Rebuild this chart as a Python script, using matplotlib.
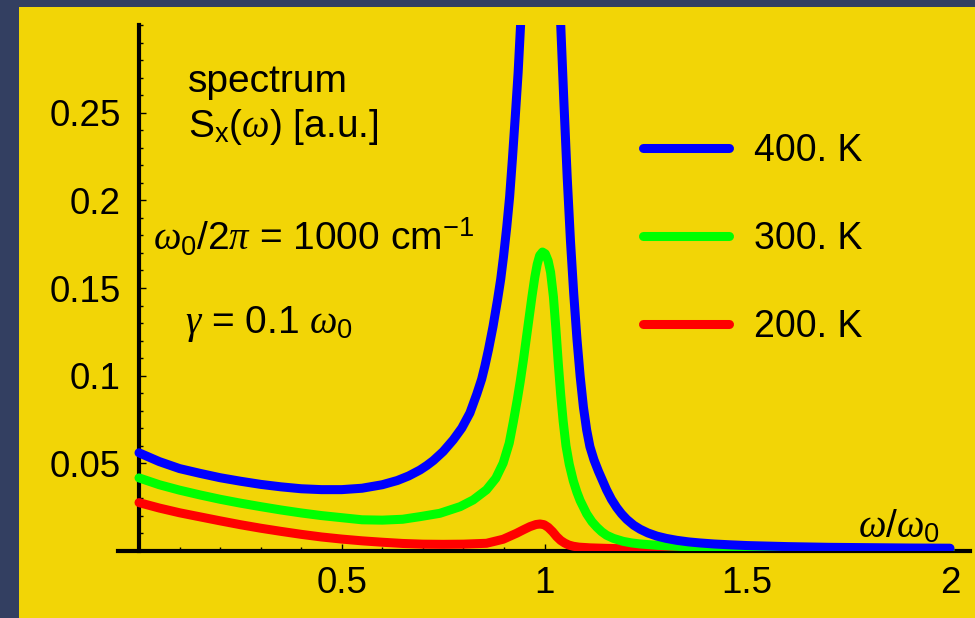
import matplotlib
matplotlib.use("Agg")
import matplotlib.pyplot as plt
from matplotlib.patches import Rectangle
from matplotlib.ticker import FixedLocator, MultipleLocator

plt.rcParams['font.family'] = ['Liberation Sans', 'DejaVu Sans']
plt.rcParams['mathtext.fontset'] = 'custom'
plt.rcParams['mathtext.rm'] = 'Liberation Sans'
plt.rcParams['mathtext.it'] = 'Liberation Serif:italic'
plt.rcParams['mathtext.bf'] = 'Liberation Sans:bold'

# values (omega/omega_0, S_x in a.u.)
x_400 = [0.00, 0.05, 0.10, 0.15, 0.20, 0.25, 0.30, 0.35, 0.40, 0.45, 0.50, 0.55,
         0.60, 0.637, 0.665, 0.693, 0.710, 0.726, 0.750, 0.775, 0.796, 0.816, 0.833,
         0.845, 0.853, 0.862, 0.873, 0.884, 0.892, 0.899, 0.907, 0.914, 0.921,
         0.928, 0.935, 0.941, 0.96, 0.99, 1.02, 1.040, 1.048, 1.056, 1.064, 1.072,
         1.080, 1.088, 1.096, 1.104, 1.112, 1.122, 1.133, 1.153, 1.165, 1.178, 1.190,
         1.203, 1.220, 1.236, 1.255, 1.277, 1.300, 1.326, 1.355, 1.383, 1.418, 1.46,
         1.50, 1.60, 1.70, 1.80, 1.90, 2.00]
s_400 = [0.056, 0.051, 0.047, 0.0443, 0.0418, 0.0398, 0.0380, 0.0366, 0.0355, 0.0350,
         0.0350, 0.0358, 0.0378, 0.0402, 0.0428, 0.0462, 0.0488, 0.0516, 0.0567, 0.0634,
         0.0701, 0.0787, 0.0895, 0.0980, 0.1055, 0.115, 0.128, 0.143, 0.155, 0.168,
         0.185, 0.202, 0.224, 0.248, 0.273, 0.30, 0.42, 0.62, 0.42, 0.30, 0.255, 0.213,
         0.177, 0.147, 0.121, 0.0995, 0.082, 0.069, 0.0595, 0.052, 0.0455, 0.0349,
         0.0295, 0.0248, 0.0212, 0.0180, 0.0147, 0.0124, 0.0103, 0.0085, 0.0072, 0.0061,
         0.0052, 0.0046, 0.0040, 0.0035, 0.0031, 0.0025, 0.0021, 0.0019, 0.0017, 0.0016]

x_300 = [0.00, 0.05, 0.10, 0.15, 0.20, 0.25, 0.30, 0.35, 0.40, 0.45, 0.50, 0.55,
         0.60, 0.65, 0.693, 0.742, 0.792, 0.824, 0.857, 0.880, 0.898, 0.913, 0.923,
         0.933, 0.940, 0.948, 0.955, 0.962, 0.969, 0.976, 0.982, 0.988, 0.995, 1.002,
         1.009, 1.015, 1.022, 1.028, 1.034, 1.040, 1.046, 1.053, 1.061, 1.071, 1.080,
         1.088, 1.104, 1.117, 1.129, 1.141, 1.153, 1.170, 1.194, 1.215, 1.236, 1.28,
         1.334, 1.45, 1.60, 1.80, 2.00]
s_300 = [0.0417, 0.0378, 0.0347, 0.0320, 0.0295, 0.0273, 0.0253, 0.0234, 0.0217,
         0.0202, 0.0190, 0.0178, 0.0176, 0.0181, 0.0196, 0.0215, 0.0253, 0.0291,
         0.0349, 0.0415, 0.0501, 0.0615, 0.0735, 0.0865, 0.0965, 0.109, 0.121, 0.133,
         0.145, 0.156, 0.1635, 0.1685, 0.1705, 0.1695, 0.1655, 0.159, 0.145, 0.127,
         0.107, 0.089, 0.074, 0.060, 0.0495, 0.0400, 0.0335, 0.0287, 0.0212, 0.0167,
         0.0136, 0.0110, 0.0090, 0.0072, 0.0055, 0.0046, 0.0040, 0.0032, 0.0026,
         0.0018, 0.0012, 0.0008, 0.0006]

x_200 = [0.00, 0.05, 0.10, 0.15, 0.20, 0.25, 0.30, 0.35, 0.40, 0.45, 0.50, 0.55,
         0.60, 0.65, 0.70, 0.75, 0.80, 0.857, 0.898, 0.931, 0.948, 0.964, 0.979, 0.989,
         0.999, 1.009, 1.020, 1.030, 1.040, 1.050, 1.060, 1.071, 1.085, 1.112, 1.153,
         1.25, 1.383, 1.60, 2.00]
s_200 = [0.0276, 0.0245, 0.0218, 0.0195, 0.0172, 0.0150, 0.0130, 0.0112, 0.0095,
         0.0080, 0.0068, 0.0058, 0.0050, 0.0043, 0.0039, 0.0038, 0.0039, 0.0044,
         0.0067, 0.0101, 0.0121, 0.0139, 0.0151, 0.0154, 0.0150, 0.0135, 0.0110,
         0.0082, 0.0060, 0.0045, 0.0034, 0.0027, 0.0022, 0.0018, 0.0015, 0.0010,
         0.0006, 0.0004, 0.0002]

labels = ["400. K", "300. K", "200. K"]
colors = ["#0000FF", "#00FF00", "#FF0000"]

x_major = [0.5, 1, 1.5, 2]
x_major_labels = ["0.5", "1", "1.5", "2"]
y_major = [0.05, 0.1, 0.15, 0.2, 0.25]
y_major_labels = ["0.05", "0.1", "0.15", "0.2", "0.25"]

W, H = 975, 618
fig = plt.figure(figsize=(W / 100, H / 100), dpi=100)
fig.patch.set_facecolor("#333F61")
fig.patches.append(Rectangle((19 / W, 0), 1 - 19 / W, 1 - 7 / H,
                             transform=fig.transFigure, facecolor="#F2D506",
                             edgecolor="none", zorder=-1))

ax = fig.add_axes([118 / W, (H - 551) / H, (970 - 118) / W, (551 - 25) / H])
ax.set_zorder(1)
ax.set_facecolor("none")
ax.set_xlim(-21 / 405.5, 831 / 405.5)
ax.set_ylim(0, 0.30)

# red first, blue on top
for xs, ys, c in [(x_200, s_200, colors[2]), (x_300, s_300, colors[1]), (x_400, s_400, colors[0])]:
    ax.plot(xs, ys, color=c, lw=6.5, solid_capstyle="round", solid_joinstyle="round", zorder=3)

# legend drawn with proxy lines
handles = [plt.Line2D([0], [0], color=c, lw=6.5, solid_capstyle="round") for c in colors]
leg = ax.legend(handles, labels, loc="upper left",
                bbox_to_anchor=(643 / W, 1 - 133 / H), bbox_transform=fig.transFigure,
                frameon=False, fontsize=27, borderpad=0, borderaxespad=0,
                handlelength=2.3, handletextpad=0.65, labelspacing=1.39)

# spines: only the two axes lines
for s in ["top", "right"]:
    ax.spines[s].set_visible(False)
ax.spines["left"].set_position(("data", 0))
ax.spines["left"].set_linewidth(3)
ax.spines["bottom"].set_linewidth(3)
ax.spines["left"].set_zorder(2)
ax.spines["bottom"].set_zorder(2)

ax.xaxis.set_major_locator(FixedLocator(x_major))
ax.set_xticklabels(x_major_labels)
ax.xaxis.set_minor_locator(MultipleLocator(0.1))
ax.yaxis.set_major_locator(FixedLocator(y_major))
ax.set_yticklabels(y_major_labels)
ax.yaxis.set_minor_locator(MultipleLocator(0.01))
ax.tick_params(which="both", direction="in", color="black", width=1)
ax.tick_params(which="major", length=5, labelsize=26.5)
ax.tick_params(which="minor", length=3)
ax.tick_params(axis="x", which="major", pad=11)
ax.tick_params(axis="y", which="major", pad=13)

# annotations
def ftext(px, py, s, size=28, **kw):
    fig.text(px / W, 1 - py / H, s, fontsize=size, va="baseline", ha="left", zorder=5, **kw)

ftext(188, 92, "spectrum")
ftext(188, 137, r"S$_{\mathrm{x}}(\omega)$ [a.u.]")
ftext(153, 250, r"$\omega_0/2\pi$ = 1000 cm$^{-1}$")
ftext(185, 333, r"$\gamma$ = 0.1 $\omega_0$")
ftext(858, 537, r"$\omega/\omega_0$")

fig.savefig("out.png", dpi=100, facecolor=fig.get_facecolor())
